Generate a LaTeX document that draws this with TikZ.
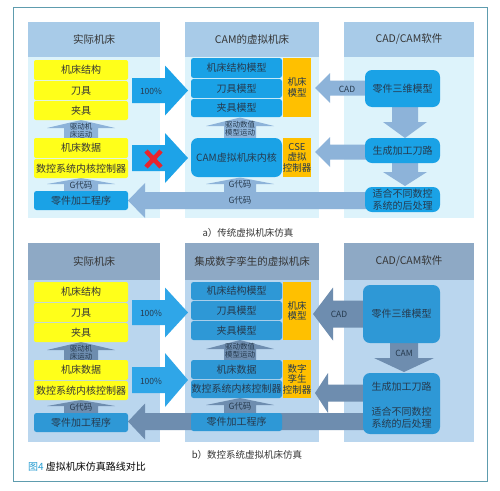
\documentclass[tikz,border=0pt]{standalone}
\usepackage{fontspec}
\setmainfont{Noto Sans CJK SC}
\definecolor{hdrA}{HTML}{A8CBE8}
\definecolor{bodyA}{HTML}{DDF3FB}
\definecolor{hdrB}{HTML}{8EA9C5}
\definecolor{bodyB}{HTML}{BAD6EE}
\definecolor{yel}{HTML}{FFFF1A}
\definecolor{org}{HTML}{FFC000}
\definecolor{blueA}{HTML}{1AA2E6}
\definecolor{blueB}{HTML}{2E98D6}
\definecolor{bigA}{HTML}{1DA3E8}
\definecolor{bigB}{HTML}{2FA6E8}
\definecolor{lightArr}{HTML}{8DB3D9}
\definecolor{darkArr}{HTML}{6E8DAF}
\definecolor{txt}{HTML}{353535}
\definecolor{txtb}{HTML}{263A4E}
\definecolor{framec}{HTML}{5E9CAE}
\definecolor{capblue}{HTML}{2A9ED2}
\definecolor{redx}{HTML}{E8242C}
\newcommand\bx[7]{\node[#2, minimum width={(#5)-(#3)}, minimum height={(#6)-(#4)}] (#1) at ({((#3)+(#5))/2},{((#4)+(#6))/2}) {#7};}
% horizontal block arrow: x-start, x-headbase, x-tip, y-mid, body half, head half, style
\newcommand\arH[7]{\fill[#7] (#1,{#4-#5}) -- (#2,{#4-#5}) -- (#2,{#4-#6}) -- (#3,#4) -- (#2,{#4+#6}) -- (#2,{#4+#5}) -- (#1,{#4+#5}) -- cycle;}
% vertical block arrow: y-start, y-headbase, y-tip, x-mid, body half, head half, style
\newcommand\arV[7]{\fill[#7] ({#4-#5},#1) -- ({#4-#5},#2) -- ({#4-#6},#2) -- (#4,#3) -- ({#4+#6},#2) -- ({#4+#5},#2) -- ({#4+#5},#1) -- cycle;}
\begin{document}
\begin{tikzpicture}[x=1pt,y=-1pt,
  every node/.style={inner sep=0pt, outer sep=0pt},
  hdr/.style={fill=#1, text=txt, font=\fontsize{10.5}{12}\selectfont},
  ybox/.style={fill=yel, rounded corners=2pt, text=txt, font=\fontsize{10}{11}\selectfont},
  bbox/.style={fill=#1, rounded corners=2.5pt, text=txtb, font=\fontsize{10}{11}\selectfont},
  cbox/.style={fill=#1, rounded corners=7pt, text=txtb, font=\fontsize{10}{12}\selectfont},
  obox/.style={fill=org, text=txtb, align=center, font=\fontsize{9.5}{10.5}\selectfont},
  arrtxt/.style={text=txtb, align=center, font=\fontsize{7.5}{7.5}\selectfont},
  lbl/.style={text=txtb, font=\fontsize{8.5}{9}\selectfont},
  pct/.style={text=txtb, font=\fontsize{8.5}{9}\selectfont}]
\useasboundingbox (0,0) rectangle (500,490);
\fill[white] (0,0) rectangle (500,490);
\draw[framec, line width=1pt] (13,7) rectangle (487,481);

% ================= panel a =================
\fill[bodyA] (28,57) rectangle (160,218);
\fill[bodyA] (185,57) rectangle (319,218);
\fill[bodyA] (344,57) rectangle (474,218);
\bx{ha1}{hdr=hdrA}{28}{22}{160}{57}{实际机床}
\bx{ha2}{hdr=hdrA}{185}{22}{319}{57}{CAM的虚拟机床}
\bx{ha3}{hdr=hdrA}{344}{22}{474}{57}{CAD/CAM软件}

% arrows panel a
\arH{132}{165}{188}{90.5}{12.5}{25}{bigA}
\arH{132}{165}{188}{158}{13}{25}{bigA}
\arH{366}{145}{128}{200.5}{8.5}{17.5}{lightArr}
\arH{366}{330}{315}{88}{7.5}{15}{lightArr}
\arH{366}{330}{315}{152}{7.5}{15}{lightArr}
\arV{138}{128}{120}{81}{17}{34}{lightArr}
\arV{191}{184}{178}{81}{17}{34}{lightArr}
\arV{138}{126}{117.5}{240}{16}{34}{lightArr}
\arV{192}{184}{177.5}{240}{16}{34}{lightArr}
\arV{106}{122}{138}{405}{13}{22}{lightArr}
\arV{162}{172}{186}{405}{13}{22}{lightArr}

% column 1 a
\bx{a11}{ybox}{34}{60}{128}{80}{机床结构}
\bx{a12}{ybox}{34}{81}{128}{100}{刀具}
\bx{a13}{ybox}{34}{101}{128}{120}{夹具}
\bx{a14}{ybox}{34}{138}{128}{158}{机床数据}
\bx{a15}{ybox}{34}{159}{128}{178}{数控系统内核控制器}
\bx{a16}{bbox=blueA}{34}{191}{128}{210}{零件加工程序}
\node[arrtxt] (ta1) at (81,130.5) {驱动机\\床运动};
\node[lbl] (ta2) at (81,185.5) {G代码};
\node[pct] (pa1) at (151,91) {100\%};
\draw[redx, line width=4.5pt] (146,151) -- (161,167) (146,167) -- (161,151);

% column 2 a
\bx{a21}{bbox=blueA}{191}{58}{282}{78}{机床结构模型}
\bx{a22}{bbox=blueA}{191}{79}{282}{98}{刀具模型}
\bx{a23}{bbox=blueA}{191}{99}{282}{117}{夹具模型}
\bx{a24}{obox}{283}{58}{311}{117}{机床\\模型}
\bx{a25}{cbox=blueA}{191}{138}{282}{177}{CAM虚拟机床内核}
\bx{a26}{obox}{283}{138}{311}{177}{CSE\\虚拟\\控制器}
\node[arrtxt] (ta3) at (240,128.5) {驱动数值\\模型运动};
\node[lbl] (ta4) at (240,184.5) {G代码};
\node[lbl] (ta5) at (240,200.5) {G代码};

% column 3 a
\bx{a31}{cbox=blueA}{365}{70}{440}{107}{零件三维模型}
\bx{a32}{cbox=blueA}{365}{138}{440}{163}{生成加工刀路}
\bx{a33}{cbox=blueA, align=center, font=\fontsize{10}{11.5}\selectfont}{365}{187}{440}{212}{适合不同数控\\系统的后处理}
\node[lbl] (ta6) at (347,89) {CAD};

\node[text=txt, font=\fontsize{9.5}{10}\selectfont] (capa) at (248,233) {a）传统虚拟机床仿真};

% ================= panel b =================
\fill[bodyB] (28,280) rectangle (160,442);
\fill[bodyB] (185,280) rectangle (319,442);
\fill[bodyB] (344,280) rectangle (474,442);
\bx{hb1}{hdr=hdrB}{28}{243}{160}{280}{实际机床}
\bx{hb2}{hdr=hdrB}{185}{243}{319}{280}{集成数字孪生的虚拟机床}
\bx{hb3}{hdr=hdrB}{344}{243}{474}{280}{CAD/CAM软件}

% arrows panel b
\arH{132}{165}{188}{312.5}{12.5}{25}{bigB}
\arH{132}{165}{188}{380}{13}{27}{bigB}
\arH{365}{145}{128}{421.5}{8.5}{18}{darkArr}
\arH{364}{333}{313}{314}{13.5}{26.5}{darkArr}
\arH{364}{328}{315}{393}{8.5}{20}{darkArr}
\arV{360}{350}{342}{81}{17}{34}{darkArr}
\arV{413}{406}{400}{81}{17}{34}{darkArr}
\arV{360}{349}{340}{240}{16}{34}{darkArr}
\arV{413}{405}{398}{240}{16}{34}{darkArr}
\arV{342}{358}{372}{404}{14}{30}{darkArr}

% column 1 b
\bx{b11}{ybox}{34}{282}{128}{302}{机床结构}
\bx{b12}{ybox}{34}{303}{128}{322}{刀具}
\bx{b13}{ybox}{34}{323}{128}{342}{夹具}
\bx{b14}{ybox}{34}{360}{128}{380}{机床数据}
\bx{b15}{ybox}{34}{381}{128}{400}{数控系统内核控制器}
\bx{b16}{bbox=blueB}{34}{413}{128}{432}{零件加工程序}
\node[arrtxt] (tb1) at (81,352.5) {驱动机\\床运动};
\node[lbl] (tb2) at (81,407) {G代码};
\node[pct] (pb1) at (151,313) {100\%};
\node[pct] (pb2) at (151,381) {100\%};

% column 2 b
\bx{b21}{bbox=blueB}{191}{282}{282}{300}{机床结构模型}
\bx{b22}{bbox=blueB}{191}{301}{282}{320}{刀具模型}
\bx{b23}{bbox=blueB}{191}{321}{282}{340}{夹具模型}
\bx{b24}{obox}{283}{282}{311}{340}{机床\\模型}
\bx{b25}{bbox=blueB}{191}{360}{282}{379}{机床数据}
\bx{b26}{bbox=blueB}{191}{380}{282}{398}{数控系统内核控制器}
\bx{b27}{obox}{283}{360}{311}{398}{数字\\孪生\\控制器}
\bx{b28}{bbox=blueB}{191}{413}{282}{431}{零件加工程序}
\node[arrtxt] (tb3) at (240,350.5) {驱动数值\\模型运动};
\node[lbl] (tb4) at (240,406) {G代码};

% column 3 b
\bx{b31}{cbox=blueB}{363}{285}{440}{343}{零件三维模型}
\bx{b32}{cbox=blueB}{363}{373}{440}{434}{}
\node[text=txtb, font=\fontsize{10}{11}\selectfont] (tb5) at (401.5,387) {生成加工刀路};
\node[text=txtb, align=center, font=\fontsize{10}{12}\selectfont] (tb6) at (401.5,417.5) {适合不同数控\\系统的后处理};
\node[lbl] (tb7) at (404,353) {CAM};
\node[lbl] (tb8) at (339,314) {CAD};

\node[text=txt, font=\fontsize{9.5}{10}\selectfont] (capb) at (247,455) {b）数控系统虚拟机床仿真};
\node[anchor=west, font=\fontsize{10}{11}\selectfont] (fig) at (28,467) {\textcolor{capblue}{图4} \textcolor{black}{虚拟机床仿真路线对比}};
\end{tikzpicture}
\end{document}
